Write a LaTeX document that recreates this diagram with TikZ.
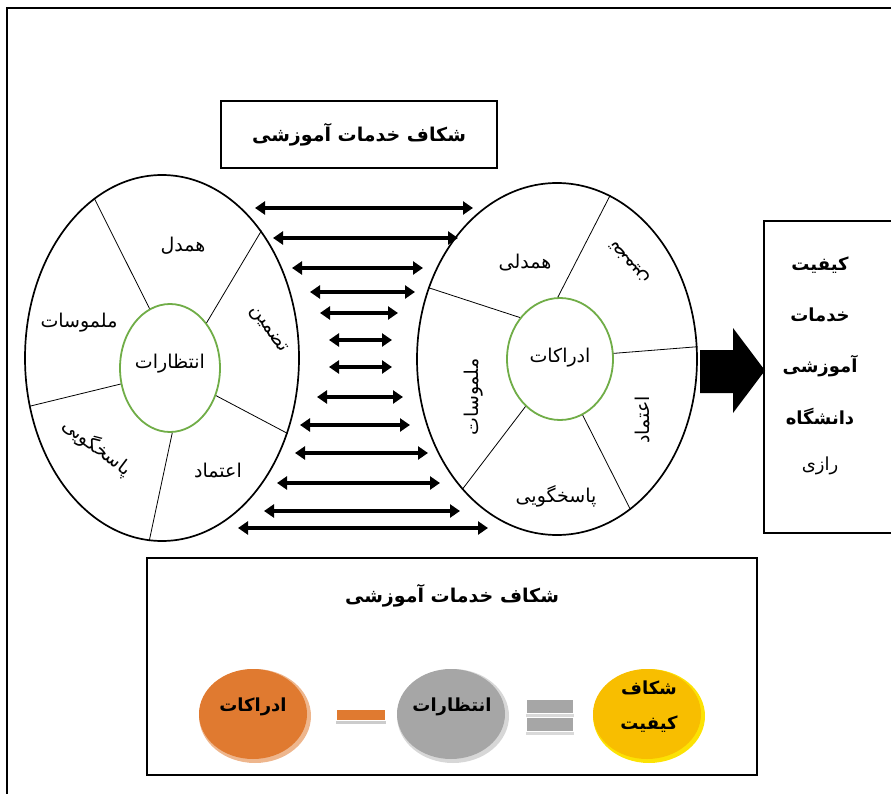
\documentclass[tikz,border=0pt]{standalone}
\usepackage{fontspec}
\usetikzlibrary{shapes.geometric,arrows.meta}
\TeXXeTstate=1
\newfontfamily\fa[Script=Arabic]{DejaVu Sans}
\newcommand{\rl}[1]{\beginR #1\endR}
\definecolor{greenC}{HTML}{70AD47}
\definecolor{orangeC}{HTML}{E07A30}
\definecolor{grayC}{HTML}{A6A6A6}
\definecolor{yellowC}{HTML}{F8BE00}
\begin{document}
\begin{tikzpicture}[x=1pt,y=-1pt,
  outerell/.style={ellipse, draw, line width=1.7pt, inner sep=0pt, fill=white},
  innerell/.style={ellipse, draw=greenC, line width=1.8pt, inner sep=0pt},
  divline/.style={line width=0.8pt},
  lbl/.style={font=\fa\fontsize{19}{21}\selectfont, inner sep=1pt},
  ttl/.style={font=\fa\bfseries\fontsize{19}{21}\selectfont},
  boxed/.style={draw, line width=1.4pt},
  dbl/.style={line width=4.8pt, {Triangle[length=10pt,width=13pt]}-{Triangle[length=10pt,width=13pt]}},
  btntext/.style={font=\fa\bfseries\fontsize{18}{20}\selectfont, inner sep=1pt},
  kbox/.style={font=\fa\bfseries\fontsize{18}{20}\selectfont}
]
\useasboundingbox (0,0) rectangle (891,794);
% outer frame
\draw[line width=1.5pt] (7,800) -- (7,8) -- (900,8);

% top title box
\node[boxed, minimum width=276pt, minimum height=67pt, ttl] (top) at (359,134.5) {\rl{شکاف خدمات آموزشی}};

% left ellipse
\node[outerell, minimum width=274pt, minimum height=366pt] (L) at (162,358) {};
\node[innerell, minimum width=100pt, minimum height=128pt] (Li) at (170,368) {};
\draw[divline] (Li.109.8) -- (L.113.6);
\draw[divline] (Li.51.2) -- (L.52.4);
\draw[divline] (Li.-31.7) -- (L.-31.1);
\draw[divline] (Li.272.6) -- (L.266.9);
\draw[divline] (Li.198.8) -- (L.200.3);
\node[lbl] (lc) at (170,364) {\rl{انتظارات}};
\node[lbl] (l1) at (183,246) {\rl{همدل}};
\node[lbl] (l2) at (79,323) {\rl{ملموسات}};
\node[lbl, rotate=-55] (l3) at (268,330) {\rl{تضمین}};
\node[lbl] (l4) at (218,471) {\rl{اعتماد}};
\node[lbl, rotate=-37] (l5) at (97,447) {\rl{پاسخگویی}};

% right ellipse
\node[outerell, minimum width=280pt, minimum height=352pt] (R) at (557,359) {};
\node[innerell, minimum width=106pt, minimum height=122pt] (Ri) at (560,359) {};
\draw[divline] (Ri.92.8) -- (R.72.9);
\draw[divline] (Ri.6.3) -- (R.5.1);
\draw[divline] (Ri.-68.6) -- (R.-64.8);
\draw[divline] (Ri.234.5) -- (R.234.5);
\draw[divline] (Ri.134.3) -- (R.151.5);
\node[lbl] (rc) at (560,358) {\rl{ادراکات}};
\node[lbl] (r1) at (525,263) {\rl{همدلی}};
\node[lbl, rotate=130] (r2) at (630,262) {\rl{تضمین}};
\node[lbl, rotate=90] (r3) at (474,397) {\rl{ملموسات}};
\node[lbl, rotate=90] (r4) at (643,420) {\rl{اعتماد}};
\node[lbl] (r5) at (556,496) {\rl{پاسخگویی}};

% double arrows between ellipses
\foreach \i/\yy/\xa/\xb in {1/208/255/473, 2/238/273/458, 3/268/292/423, 4/292/310/415,
  5/313/320/398, 6/340/329/392, 7/367/329/392, 8/397/317/403, 9/425/300/410,
  10/453/295/428, 11/483/277/440, 12/511/264/460, 13/528/238/488}{
  \coordinate (al\i) at (\xa,\yy);
  \coordinate (ar\i) at (\xb,\yy);
  \draw[dbl] (al\i) -- (ar\i);
}

% big arrow
\fill (700,350) -- (733,350) -- (733,328) -- (765,370.5) -- (733,413) -- (733,393) -- (700,393) -- cycle;

% right box
\draw[line width=1.4pt] (900,221) -- (764,221) -- (764,533) -- (900,533);
\node[kbox] (k1) at (820,265) {\rl{کیفیت}};
\node[kbox] (k2) at (820,315) {\rl{خدمات}};
\node[kbox] (k3) at (820,366) {\rl{آموزشی}};
\node[kbox] (k4) at (820,417) {\rl{دانشگاه}};
\node[font=\fa\fontsize{18}{20}\selectfont] (k5) at (820,466) {\rl{رازی}};

% bottom box
\draw[boxed] (147,558) rectangle (757,775);
\node[ttl] (bt) at (452,596) {\rl{شکاف خدمات آموزشی}};

% buttons
\node[ellipse, fill=orangeC!55!white, minimum width=112pt, minimum height=94pt, inner sep=0pt] (ob) at (255,716) {};
\fill[orangeC] (253,714) ellipse (54 and 45);
\node[btntext] (ot) at (253,707) {\rl{ادراکات}};

\node[ellipse, fill=grayC!45!white, minimum width=112pt, minimum height=94pt, inner sep=0pt] (gb) at (453,716) {};
\fill[grayC] (451,714) ellipse (54 and 45);
\node[btntext] (gt) at (452,707) {\rl{انتظارات}};

\node[ellipse, fill=yellow!70!yellowC, minimum width=112pt, minimum height=94pt, inner sep=0pt] (yb) at (649,716) {};
\fill[yellowC] (647,714) ellipse (54 and 45);
\node[btntext] (yt1) at (649,688) {\rl{شکاف}};
\node[btntext] (yt2) at (649,724) {\rl{کیفیت}};

% minus sign
\fill[orangeC] (337,710) rectangle (385,720);
\fill[black!20] (336,721) rectangle (386,724);
% equals sign
\fill[grayC] (527,700) rectangle (573,713);
\fill[black!15] (526,714) rectangle (574,717);
\fill[grayC] (527,718) rectangle (573,731);
\fill[black!15] (526,732) rectangle (574,735);
\end{tikzpicture}
\end{document}
